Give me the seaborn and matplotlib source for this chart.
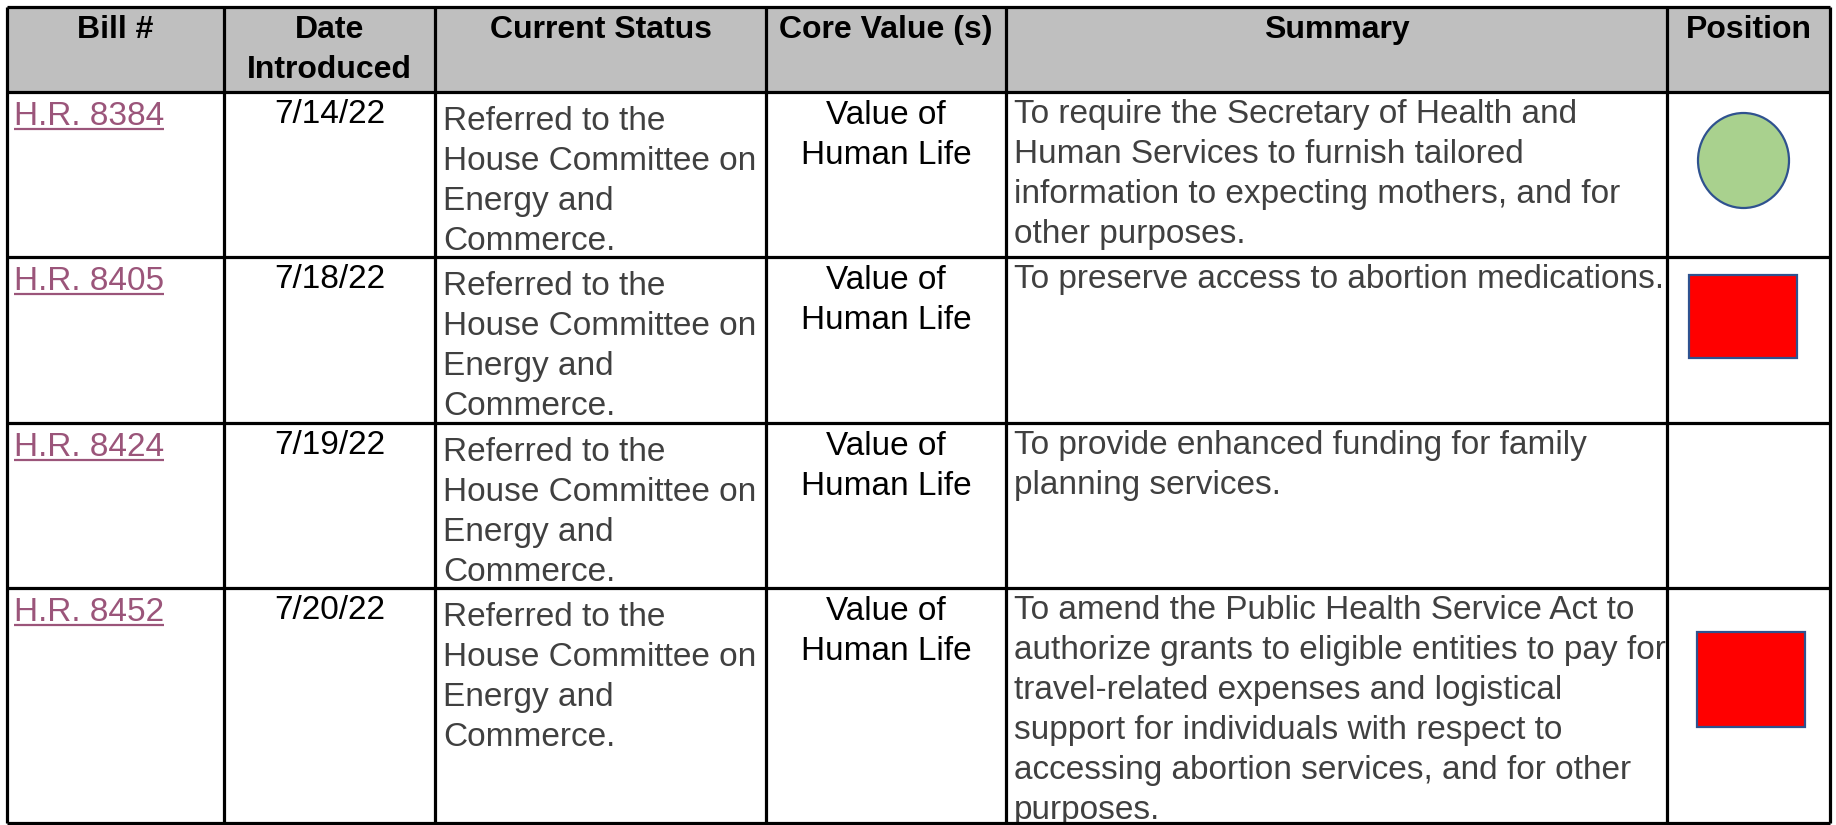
"""
Bill tracker table: four House bills, their status, core value, summary
and a position marker (green circle = support, red square = oppose).
"""

import matplotlib
matplotlib.use("Agg")  # headless

import matplotlib.pyplot as plt
from matplotlib import font_manager
from matplotlib.patches import Ellipse, Rectangle
import seaborn as sns

sns.set_theme(style="white")
plt.rcParams["font.family"] = ["Liberation Sans", "DejaVu Sans"]

# ---- table content --------------------------------------------------------
headers = ["Bill #", "Date\nIntroduced", "Current Status", "Core Value (s)",
           "Summary", "Position"]
bills = ["H.R. 8384", "H.R. 8405", "H.R. 8424", "H.R. 8452"]
dates = ["7/14/22", "7/18/22", "7/19/22", "7/20/22"]
statuses = ["Referred to the\nHouse Committee on\nEnergy and\nCommerce."] * 4
core_values = ["Value of\nHuman Life"] * 4
summaries = [
    "To require the Secretary of Health and\nHuman Services to furnish tailored\n"
    "information to expecting mothers, and for\nother purposes.",
    "To preserve access to abortion medications.",
    "To provide enhanced funding for family\nplanning services.",
    "To amend the Public Health Service Act to\nauthorize grants to eligible entities to pay for\n"
    "travel-related expenses and logistical\nsupport for individuals with respect to\n"
    "accessing abortion services, and for other\npurposes.",
]
positions = ["support", "oppose", "", "oppose"]

# ---- layout (pixel units, y grows downward) -------------------------------
W, H = 1836, 825
col_edges = [7, 224, 435, 766, 1006, 1667, 1830]
row_edges = [7, 92, 257, 423, 588, 823]
line_step = 40
# marker box inside the position cell: dx, dy, width, height
shape_boxes = [(31, 21, 91, 95), (22, 18, 108, 83), None, (30, 44, 108, 95)]

HEADER_BG = "#BFBFBF"
LINK = "#9B557A"
BODY_GRAY = "#404040"
SHAPE_EDGE = "#2F528F"
SUPPORT = "#A9D18E"
OPPOSE = "#FF0000"


def has_font(name):
    try:
        font_manager.findfont(font_manager.FontProperties(family=name),
                              fallback_to_default=False)
        return True
    except ValueError:
        return False


NARROW = "Liberation Sans Narrow" if has_font("Liberation Sans Narrow") else "Liberation Sans"
BODY_SIZE = 24
HEAD_SIZE = 23


def put_lines(ax, x, y0, text, ha="left", **kw):
    arts = []
    for i, line in enumerate(text.split("\n")):
        arts.append(ax.text(x, y0 + i * line_step, line, ha=ha, va="baseline", **kw))
    return arts


fig = plt.figure(figsize=(W / 100, H / 100), dpi=100)
ax = fig.add_axes([0, 0, 1, 1])
ax.set_xlim(0, W)
ax.set_ylim(H, 0)
ax.axis("off")

# header band
ax.add_patch(Rectangle((col_edges[0], row_edges[0]), col_edges[-1] - col_edges[0],
                       row_edges[1] - row_edges[0], facecolor=HEADER_BG, edgecolor="none"))

for j, head in enumerate(headers):
    cx = (col_edges[j] + col_edges[j + 1]) / 2
    put_lines(ax, cx, row_edges[0] + 31, head, ha="center",
              fontsize=HEAD_SIZE, fontweight="bold", color="black")

links = []
for i in range(len(bills)):
    top = row_edges[i + 1]
    links += put_lines(ax, col_edges[0] + 7, top + 33, bills[i],
                       fontsize=BODY_SIZE, color=LINK)
    put_lines(ax, (col_edges[1] + col_edges[2]) / 2, top + 31, dates[i], ha="center",
              fontsize=BODY_SIZE, color="black", family=[NARROW, "DejaVu Sans"])
    put_lines(ax, col_edges[2] + 8, top + 38, statuses[i],
              fontsize=BODY_SIZE, color=BODY_GRAY)
    put_lines(ax, (col_edges[3] + col_edges[4]) / 2, top + 32, core_values[i], ha="center",
              fontsize=BODY_SIZE, color="black")
    put_lines(ax, col_edges[4] + 8, top + 31, summaries[i],
              fontsize=BODY_SIZE, color=BODY_GRAY)

    box = shape_boxes[i]
    if positions[i] and box:
        dx, dy, w, h = box
        x0, y0 = col_edges[5] + dx, top + dy
        if positions[i] == "support":
            ax.add_patch(Ellipse((x0 + w / 2, y0 + h / 2), w, h, facecolor=SUPPORT,
                                 edgecolor=SHAPE_EDGE, linewidth=1.6, zorder=3))
        else:
            ax.add_patch(Rectangle((x0, y0), w, h, facecolor=OPPOSE,
                                   edgecolor=SHAPE_EDGE, linewidth=1.6, zorder=3))

# grid lines
ax.vlines(col_edges, row_edges[0], row_edges[-1], color="black", linewidth=2.3, zorder=4)
ax.hlines(row_edges, col_edges[0], col_edges[-1], color="black", linewidth=2.3, zorder=4)

# underline the hyperlinks
fig.canvas.draw()
renderer = fig.canvas.get_renderer()
inv = ax.transData.inverted()
for t in links:
    bb = t.get_window_extent(renderer)
    (xa, _), (xb, _) = inv.transform([(bb.x0, bb.y0), (bb.x1, bb.y0)])
    yb = t.get_position()[1] + 4
    ax.plot([xa, xb], [yb, yb], color=LINK, linewidth=1.6, solid_capstyle="butt")

fig.savefig("out.png", dpi=100)
plt.close(fig)
